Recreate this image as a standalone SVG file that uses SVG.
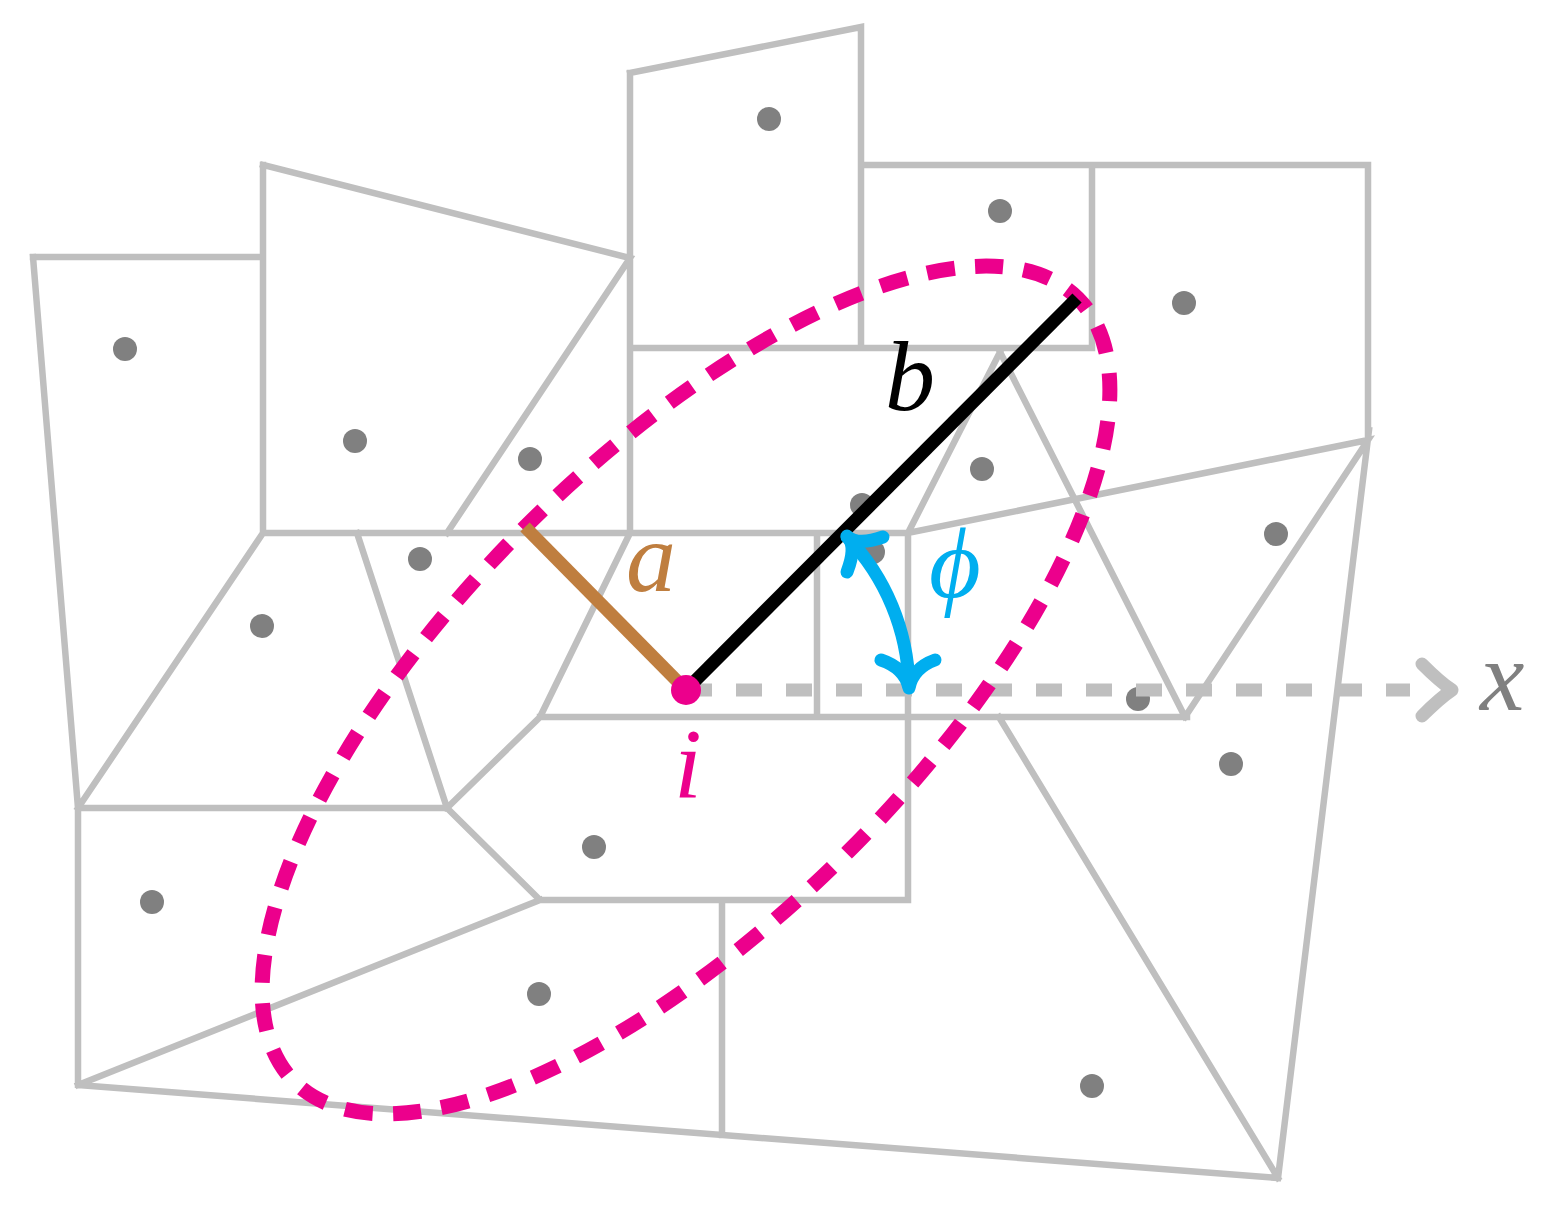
<svg xmlns="http://www.w3.org/2000/svg" width="1541" height="1208" viewBox="0 0 1541 1208">
<defs>
<style>
.mesh{fill:none;stroke:#bfbfbf;stroke-width:6.5;stroke-linejoin:miter;stroke-linecap:square}
.pt{fill:#808080}
.lbl{font-family:"Liberation Serif","DejaVu Serif",serif;font-style:italic;font-size:100px}
</style>
</defs>
<rect width="1541" height="1208" fill="#ffffff"/>
<g id="mesh" class="mesh">
<path d="M33,257 L263,257 M33,257 L78,808 M263,165 L263,533 M263,165 L630,258 L447,533 M630,73 L861,27 L861,348 M630,73 L630,533 M861,165 L1368,165 L1368,434 M1092,165 L1092,348 M630,348 L1092,348 M1000,352 L908,533 M1000,352 L1185,717 M908,533 L1368,440 L1185,717 M1369,430 L1278,1178 M263,533 L908,533 M357,533 L447,808 M263,533 L78,808 M78,808 L447,808 M447,808 L540,717 L630,533 M540,717 L1187,717 M817,533 L817,717 M908,533 L908,900 M447,808 L540,900 L908,900 M540,900 L78,1085 M78,808 L78,1085 L1278,1178 M722,900 L722,1135 M999,717 L1278,1178"/>
</g>
<g id="points" class="pt">
<circle cx="125" cy="349" r="12"/>
<circle cx="355" cy="441" r="12"/>
<circle cx="530" cy="459" r="12"/>
<circle cx="769" cy="119" r="12"/>
<circle cx="1000" cy="211" r="12"/>
<circle cx="1184" cy="303" r="12"/>
<circle cx="982" cy="469" r="12"/>
<circle cx="862" cy="505" r="12"/>
<circle cx="873" cy="552" r="12"/>
<circle cx="420" cy="559" r="12"/>
<circle cx="262" cy="626" r="12"/>
<circle cx="1276" cy="534" r="12"/>
<circle cx="1138" cy="699" r="12"/>
<circle cx="1231" cy="764" r="12"/>
<circle cx="594" cy="847" r="12"/>
<circle cx="152" cy="902" r="12"/>
<circle cx="539" cy="994" r="12"/>
<circle cx="1092" cy="1086" r="12"/>
</g>
<g id="x-axis" fill="none" stroke="#bfbfbf" stroke-width="13">
<line x1="686" y1="690" x2="1410" y2="690" stroke-dasharray="26 24"/>
<path d="M1422,664 Q1440,682 1452,690 M1422,716 Q1440,698 1452,690" stroke-linecap="round" stroke-linejoin="round"/>
</g>
<text id="label-x" class="lbl" x="1480" y="710" fill="#808080">x</text>
<g id="ellipse">
<ellipse cx="686" cy="690" rx="554" ry="229" transform="rotate(-45 686 690)" fill="none" stroke="#ec008c" stroke-width="15" stroke-dasharray="28 20.43" stroke-dashoffset="14"/>
</g>
<g id="axes">
<line id="axis-b" x1="686" y1="690" x2="1077" y2="298" stroke="#000000" stroke-width="13"/>
<line id="axis-a" x1="686" y1="690" x2="525" y2="527" stroke="#bf7e3f" stroke-width="13"/>
</g>
<circle id="center-i" cx="686" cy="690" r="15" fill="#ec008c"/>
<g id="angle-phi" fill="none" stroke="#00aeef" stroke-width="13" stroke-linecap="round" stroke-linejoin="round">
<path d="M847,537 A222,222 0 0 1 909,686"/>
<path d="M909,688 Q905,668 881,660 M909,688 Q913,668 935,660"/>
<path d="M847,536 Q857,546 883,537 M847,536 Q857,546 847,572"/>
</g>
<text id="label-a" class="lbl" x="626" y="591" fill="#bf7e3f">a</text>
<text id="label-b" class="lbl" x="885" y="410" fill="#000000">b</text>
<text id="label-phi" class="lbl" x="955" y="597" fill="#00aeef" text-anchor="middle">ϕ</text>
<text id="label-i" class="lbl" x="688" y="797" fill="#ec008c" text-anchor="middle">i</text>
</svg>
